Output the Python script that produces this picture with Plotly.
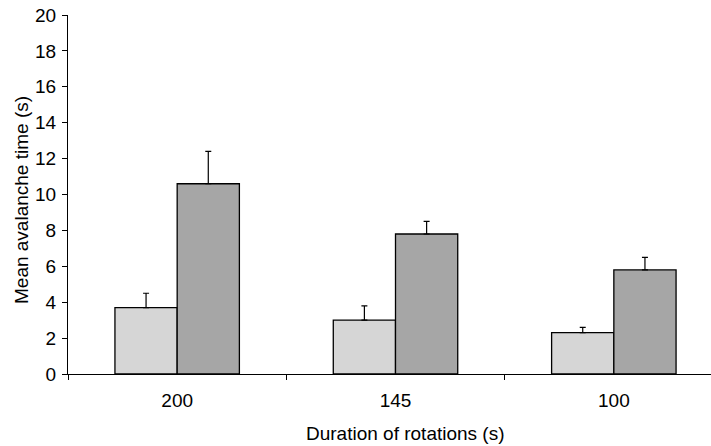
import plotly.graph_objects as go

categories = ["200", "145", "100"]
light_values = [3.7, 3.0, 2.3]
light_errors = [0.8, 0.8, 0.3]
dark_values = [10.6, 7.8, 5.8]
dark_errors = [1.8, 0.7, 0.7]
y_ticks = list(range(0, 21, 2))

fig = go.Figure()
fig.add_trace(go.Bar(
    x=categories, y=light_values,
    marker=dict(color="#d6d6d6", line=dict(color="black", width=1.3)),
    error_y=dict(type="data", array=light_errors, symmetric=False,
                 arrayminus=[0] * 3, color="black", thickness=1.2, width=3),
    showlegend=False,
))
fig.add_trace(go.Bar(
    x=categories, y=dark_values,
    marker=dict(color="#a6a6a6", line=dict(color="black", width=1.3)),
    error_y=dict(type="data", array=dark_errors, symmetric=False,
                 arrayminus=[0] * 3, color="black", thickness=1.2, width=3),
    showlegend=False,
))

L, R, T, B, W, H = 68, 0, 15, 72, 711, 446
pw, ph = W - L - R, H - T - B

fig.update_layout(
    width=W, height=H,
    margin=dict(l=L, r=R, t=T, b=B),
    plot_bgcolor="white", paper_bgcolor="white",
    barmode="group", bargap=0.43, bargroupgap=0,
    font=dict(family="Liberation Sans, Arial, sans-serif", size=19, color="black"),
    xaxis=dict(
        type="category", range=[-0.5, 2.445],
        showline=True, linecolor="black", linewidth=1,
        ticks="outside", tickson="boundaries", ticklen=5, tickcolor="black",
        showgrid=False, zeroline=False,
        tickfont=dict(size=19), ticklabelstandoff=9,
    ),
    yaxis=dict(
        range=[0, 20], tickvals=y_ticks,
        showline=True, linecolor="black", linewidth=1,
        ticks="outside", ticklen=5, tickcolor="black",
        showgrid=False, zeroline=False,
        tickfont=dict(size=19), ticklabelstandoff=2,
    ),
    annotations=[
        dict(text="Duration of rotations (s)", xref="paper", yref="paper",
             x=(405 - L) / pw, y=(H - B - 434) / ph, xanchor="center", yanchor="middle",
             showarrow=False, font=dict(size=19)),
        dict(text="Mean avalanche time (s)", xref="paper", yref="paper",
             x=(21 - L) / pw, y=(H - B - 200) / ph, xanchor="center", yanchor="middle",
             textangle=-90, showarrow=False, font=dict(size=19)),
    ],
)

fig.write_html("out.html")
